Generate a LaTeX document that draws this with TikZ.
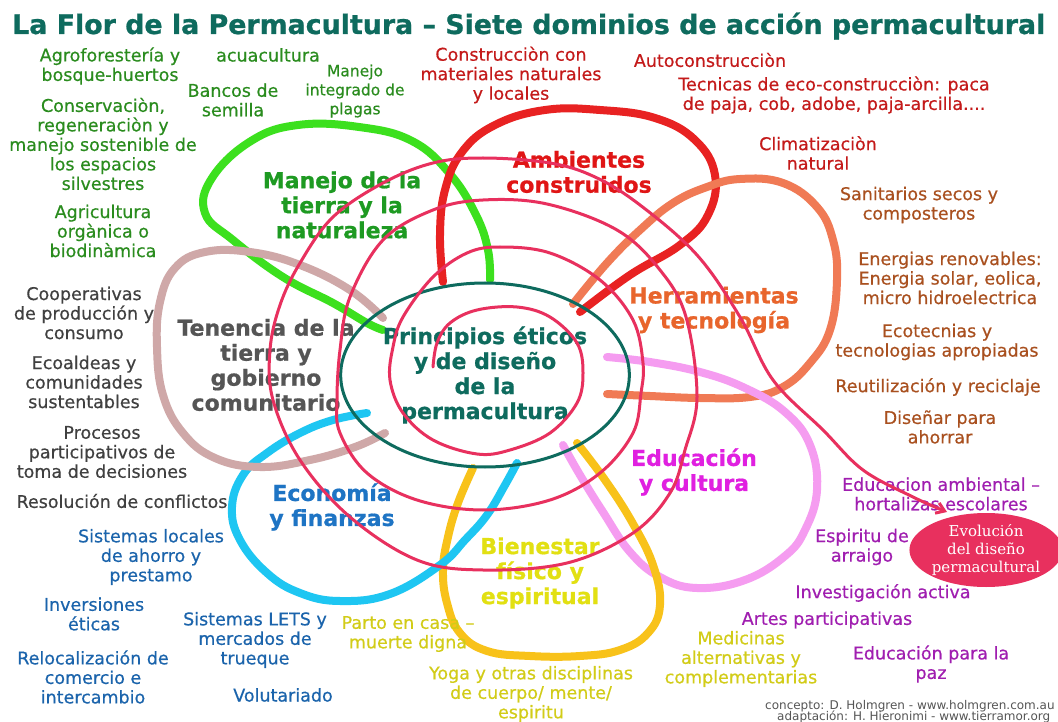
\documentclass[tikz,border=0pt]{standalone}
\usepackage{graphicx}
\usepackage{fontspec}
\setmainfont{DejaVu Sans}
\newfontfamily\sidefont[FakeBold=0.5]{DejaVu Sans}
\newfontfamily\lblfont[FakeBold=0.8]{DejaVu Sans}
\newfontfamily\evolfont{DejaVu Serif}
\usetikzlibrary{shapes.geometric,arrows.meta}
\definecolor{tealc}{HTML}{0E6B5E}
\definecolor{greenline}{HTML}{3CE01E}
\definecolor{redline}{HTML}{E82222}
\definecolor{orangeline}{HTML}{F07A55}
\definecolor{pinkline}{HTML}{F59CF0}
\definecolor{yellowline}{HTML}{F8C21A}
\definecolor{cyanline}{HTML}{1EC6F2}
\definecolor{mauveline}{HTML}{CFA8A8}
\definecolor{spiralc}{HTML}{E8305E}
\definecolor{greenlbl}{HTML}{1E9A22}
\definecolor{greentxt}{HTML}{2A8C1E}
\definecolor{redlbl}{HTML}{E01515}
\definecolor{redtxt}{HTML}{C41A1A}
\definecolor{orangelbl}{HTML}{E8652C}
\definecolor{orangetxt}{HTML}{A9501F}
\definecolor{magentalbl}{HTML}{E020E0}
\definecolor{magentatxt}{HTML}{A01EB0}
\definecolor{yellowlbl}{HTML}{E2E012}
\definecolor{yellowtxt}{HTML}{D2CC18}
\definecolor{bluelbl}{HTML}{1E74C4}
\definecolor{bluetxt}{HTML}{1B64AC}
\definecolor{greylbl}{HTML}{555555}
\definecolor{greytxt}{HTML}{404040}
\definecolor{foottxt}{HTML}{555555}
\begin{document}
\begin{tikzpicture}[x=1pt,y=-1pt,
  side/.style={align=center, inner sep=0pt, font=\sidefont\fontsize{17.5}{19.5}\selectfont},
  smallside/.style={align=center, inner sep=0pt, font=\sidefont\fontsize{15.5}{19}\selectfont},
  plabel/.style={align=center, inner sep=0pt, font=\lblfont\bfseries\fontsize{22}{25}\selectfont},
  petalline/.style={line width=8pt, line cap=round, line join=round},
  spiralline/.style={draw=spiralc, line width=3pt, line cap=round, line join=round},
  foot/.style={anchor=west, inner sep=0pt, text=foottxt, font=\fontsize{12}{12}\selectfont}
]
\fill[white] (0,0) rectangle (1058,722);
\useasboundingbox (0,0) rectangle (1058,722);

% title
\node[anchor=base west, inner sep=0pt, text=tealc, font=\lblfont\bfseries\fontsize{23}{28}\selectfont] (title) at (12,34)
  {\resizebox{1033pt}{!}{La Flor de la Permacultura – Siete dominios de acción permacultural}};

% petals
\draw[petalline, draw=greenline] plot[smooth, tension=0.7] coordinates {(490,280) (488,250) (476,215) (450,174) (412,141) (359,127) (298,125) (251,141) (212,178) (205,213) (233,240) (283,277) (333,303) (367,323) (383,330)};
\draw[petalline, draw=redline] plot[smooth, tension=0.7] coordinates {(443,282) (440,235) (445,190) (462,152) (495,125) (545,110) (600,110) (655,118) (695,140) (715,175) (708,215) (680,245) (630,275) (580,312)};
\draw[petalline, draw=orangeline] plot[smooth, tension=0.7] coordinates {(573,304) (607,263) (640,230) (673,203) (707,187) (740,179) (783,183) (817,207) (833,240) (837,280) (830,330) (810,363) (783,387) (750,397) (700,398) (650,396) (607,394)};
\draw[petalline, draw=pinkline] plot[smooth, tension=0.7] coordinates {(607,357) (650,362) (700,372) (745,388) (785,412) (810,445) (817,490) (805,530) (785,556) (745,580) (697,588) (660,577) (630,552) (603,512) (580,475) (563,445)};
\draw[petalline, draw=yellowline] plot[smooth, tension=0.7] coordinates {(577,443) (605,480) (632,522) (653,565) (660,605) (648,633) (620,650) (580,656) (530,656) (487,651) (460,633) (447,603) (443,570) (448,537) (458,503) (473,468)};
\draw[petalline, draw=cyanline] plot[smooth, tension=0.7] coordinates {(367,413) (333,420) (300,433) (267,453) (243,475) (232,507) (240,540) (267,573) (300,593) (340,601) (390,594) (440,565) (465,540) (487,515) (505,485) (517,463)};
\draw[petalline, draw=mauveline] plot[smooth, tension=0.7] coordinates {(383,318) (350,290) (300,265) (250,252) (205,252) (175,268) (160,302) (157,347) (163,395) (183,433) (215,458) (260,467) (310,460) (355,447) (385,433)};

% center
\node[draw=tealc, line width=3pt, ellipse, minimum width=246pt, minimum height=184pt, inner sep=0pt,
  align=center, text=tealc, font=\lblfont\bfseries\fontsize{22}{25}\selectfont] (center) at (485,375)
  {Principios éticos\\y de diseño\\de la\\permacultura};

% petal labels
\node[plabel, text=greenlbl] (lmanejo) at (342,205) {Manejo de la\\tierra y la\\naturaleza};
\node[plabel, text=redlbl] (lamb) at (579,172) {Ambientes\\construidos};
\node[plabel, text=orangelbl] (lherr) at (714,310) {Herramientas\\y tecnología};
\node[plabel, text=magentalbl] (leduc) at (694,472) {Educación\\y cultura};
\node[plabel, text=yellowlbl] (lbien) at (540,573) {Bienestar\\físico y\\espiritual};
\node[plabel, text=bluelbl] (lecon) at (332,507) {Economía\\y finanzas};
\node[plabel, text=greylbl] (lten) at (266,365) {Tenencia de la\\tierra y\\gobierno\\comunitario};

% green items
\node[side, text=greentxt] (agro) at (110,66) {Agroforestería y\\bosque-huertos};
\node[side, text=greentxt] (acua) at (268,55) {acuacultura};
\node[side, text=greentxt] (bancos) at (233,100) {Bancos de\\semilla};
\node[smallside, text=greentxt] (plagas) at (355,91) {Manejo\\integrado de\\plagas};
\node[side, text=greentxt] (conserv) at (103,144) {Conservaciòn,\\regeneraciòn y\\manejo sostenible de\\los espacios\\silvestres};
\node[side, text=greentxt] (agri) at (103,231) {Agricultura\\orgànica o\\biodinàmica};

% red items
\node[side, text=redtxt] (constr) at (511,75) {Construcciòn con\\materiales naturales\\y locales};
\node[side, text=redtxt] (autoc) at (710,60) {Autoconstrucciòn};
\node[side, text=redtxt] (tecn) at (834,95) {Tecnicas de eco-construcciòn: paca\\de paja, cob, adobe, paja-arcilla....};
\node[side, text=redtxt] (clima) at (818,153) {Climatizaciòn\\natural};

% orange items
\node[side, text=orangetxt] (sanit) at (919,205) {Sanitarios secos y\\composteros};
\node[side, text=orangetxt] (energ) at (950,278) {Energias renovables:\\Energia solar, eolica,\\micro hidroelectrica};
\node[side, text=orangetxt] (ecot) at (937,342) {Ecotecnias y\\tecnologias apropiadas};
\node[side, text=orangetxt] (reut) at (938,387) {Reutilización y reciclaje};
\node[side, text=orangetxt] (disen) at (940,427) {Diseñar para\\ahorrar};

% magenta items
\node[side, text=magentatxt] (educamb) at (941,494) {Educacion ambiental –\\hortalizas escolares};
\node[side, text=magentatxt] (espir) at (862,547) {Espiritu de\\arraigo};
\node[side, text=magentatxt] (invest) at (883,593) {Investigación activa};
\node[side, text=magentatxt] (artes) at (827,620) {Artes participativas};
\node[side, text=magentatxt] (paz) at (931,664) {Educación para la\\paz};

% yellow items
\node[side, text=yellowtxt] (medic) at (741,659) {Medicinas\\alternativas y\\complementarias};
\node[side, text=yellowtxt] (parto) at (408,634) {Parto en casa –\\muerte digna};
\node[side, text=yellowtxt] (yoga) at (531,694) {Yoga y otras disciplinas\\de cuerpo/ mente/\\espiritu};

% blue items
\node[side, text=bluetxt] (sistloc) at (151,557) {Sistemas locales\\de ahorro y\\prestamo};
\node[side, text=bluetxt] (invers) at (94,614) {Inversiones\\éticas};
\node[side, text=bluetxt] (reloc) at (93,677) {Relocalización de\\comercio e\\intercambio};
\node[side, text=bluetxt] (lets) at (255,640) {Sistemas LETS y\\mercados de\\trueque};
\node[side, text=bluetxt] (volut) at (283,695) {Volutariado};

% grey items
\node[side, text=greytxt] (coop) at (84,313) {Cooperativas\\de producción y\\consumo};
\node[side, text=greytxt] (ecoald) at (84,382) {Ecoaldeas y\\comunidades\\sustentables};
\node[side, text=greytxt] (procesos) at (102,452) {Procesos\\participativos de\\toma de decisiones};
\node[side, text=greytxt] (resol) at (122,501) {Resolución de conflictos};

% evolution ellipse
\node[ellipse, fill=spiralc, minimum width=142pt, minimum height=74pt, inner sep=0pt, align=center,
  text=white, font=\evolfont\fontsize{15}{18}\selectfont] (evol) at (986,550) {Evolución\\del diseño\\permacultural};
\coordinate (tip) at (947,512);

% spiral
\draw[spiralline, -{Straight Barb[length=8pt,width=11pt]}] plot[smooth, tension=0.6] coordinates {
(433,367) (437,343) (450,323) (477,310) (517,307) (550,317) (577,343) (583,373) (577,403) (550,433) (510,450) (477,454) (433,440) (403,413) (390,380) (393,347) (403,317) (433,277) (467,253) (500,247) (550,253) (600,280) (633,320) (643,363) (641,393) (633,433) (600,473) (550,500) (483,510) (417,500) (367,473) (340,433) (337,400) (340,350) (350,297) (383,240) (433,210) (483,200) (547,204) (617,230) (660,270) (686,317) (697,397) (685,450) (670,493) (633,533) (567,563) (483,570) (417,560) (350,517) (300,460) (273,400) (270,350) (280,305) (300,263) (333,217) (383,183) (433,163) (483,158) (550,163) (595,177) (640,205) (697,255) (740,317) (773,380) (823,430) (863,470) (913,497) (tip)};

% footnote
\node[foot] (foot1) at (765,706) {concepto: D. Holmgren - www.holmgren.com.au};
\node[foot] (foot2) at (777,717) {adaptación: H. Hieronimi - www.tierramor.org};
\end{tikzpicture}
\end{document}
